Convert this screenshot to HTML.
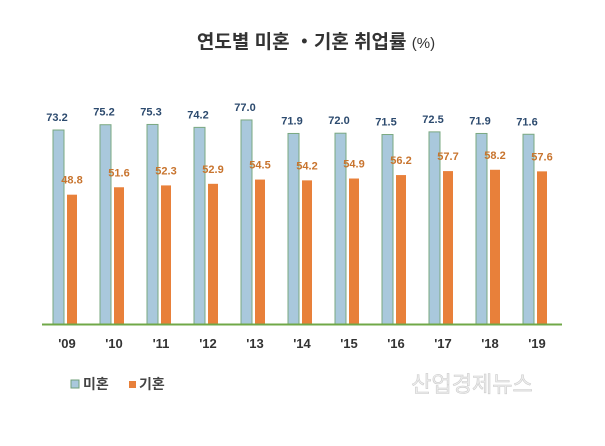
<!DOCTYPE html>
<html><head><meta charset="utf-8"><style>body{margin:0;background:#fff}</style></head><body>
<svg width="605" height="441" xmlns="http://www.w3.org/2000/svg" font-family="Liberation Sans, Noto Sans CJK KR, sans-serif">
<rect width="605" height="441" fill="#fff"/>
<text x="316" y="48" text-anchor="middle" font-size="19" font-weight="bold" fill="#333">연도별 미혼 ・기혼 취업률 <tspan font-size="15" font-weight="normal">(%)</tspan></text>
<g id="bars"></g>
<line x1="42" y1="324.5" x2="562" y2="324.5" stroke="#70a848" stroke-width="2"/>
<rect x="71" y="380" width="8" height="8" fill="#a9c8dc" stroke="#6f9f7a"/>
<text x="83" y="389" font-size="14" font-weight="bold" fill="#444">미혼</text>
<rect x="129" y="381" width="7" height="7" fill="#e8803a"/>
<text x="139" y="389" font-size="14" font-weight="bold" fill="#444">기혼</text>
<text x="472" y="392" text-anchor="middle" font-size="22" fill="#eee" stroke="#ccc" stroke-width="0.6">산업경제뉴스</text>
</svg>
<script>
var m=[73.2,75.2,75.3,74.2,77.0,71.9,72.0,71.5,72.5,71.9,71.6],k=[48.8,51.6,52.3,52.9,54.5,54.2,54.9,56.2,57.7,58.2,57.6],y=["'09","'10","'11","'12","'13","'14","'15","'16","'17","'18","'19"];
var s="";for(var i=0;i<11;i++){var x=53+47*i,h1=m[i]*2.65,h2=k[i]*2.65;
s+='<rect x="'+x+'" y="'+(324-h1)+'" width="11" height="'+h1+'" fill="#a9c8dc" stroke="#7aa880" stroke-width="1"/>';
s+='<rect x="'+(x+14)+'" y="'+(324-h2)+'" width="10" height="'+h2+'" fill="#e8803a"/>';
s+='<text x="'+(x+4)+'" y="'+(324-h1-9)+'" text-anchor="middle" font-size="11" font-weight="bold" fill="#2c4a6e">'+m[i].toFixed(1)+'</text>';
s+='<text x="'+(x+19)+'" y="'+(324-h2-11)+'" text-anchor="middle" font-size="11" font-weight="bold" fill="#c8742e">'+k[i].toFixed(1)+'</text>';
s+='<text x="'+(x+14)+'" y="348" text-anchor="middle" font-size="13" font-weight="bold" fill="#333">'+y[i]+'</text>';}
document.getElementById("bars").innerHTML=s;
</script>
</body></html>
